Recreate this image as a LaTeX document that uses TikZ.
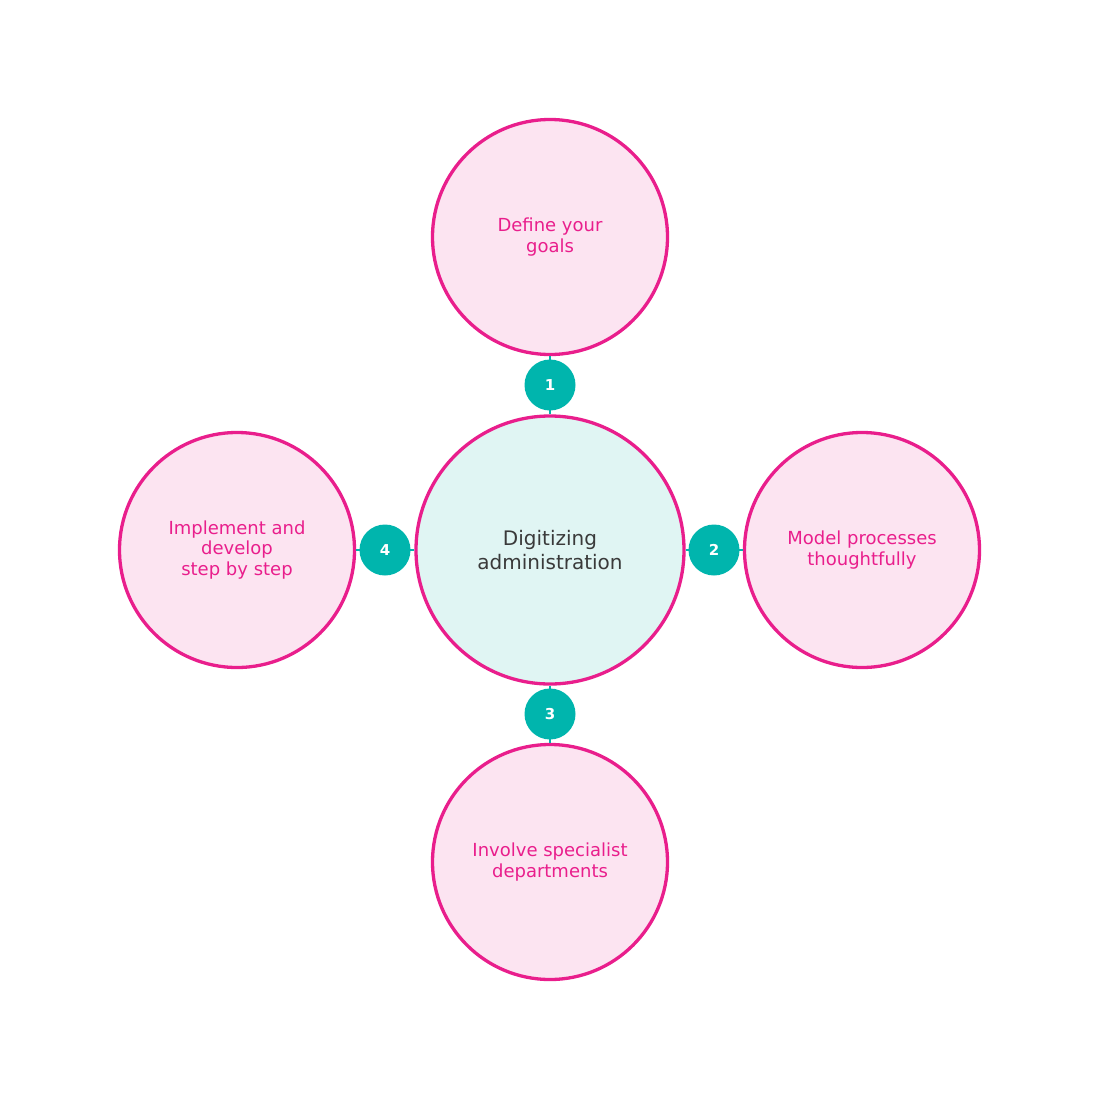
\documentclass[tikz,border=0pt]{standalone}
\usepackage{fontspec}
\setmainfont{DejaVu Sans}
\definecolor{pinkline}{HTML}{E91E8C}
\definecolor{pinkfill}{HTML}{FCE4F1}
\definecolor{centerfill}{HTML}{E0F5F3}
\definecolor{teal}{HTML}{00B5AD}
\definecolor{darktext}{HTML}{3A3A3A}
\tikzset{
  outer/.style={circle, draw=pinkline, line width=3.3pt, fill=pinkfill, minimum size=235pt, inner sep=0pt, align=center, text=pinkline, font=\fontsize{18}{20.5}\selectfont},
  centre/.style={circle, draw=pinkline, line width=3.3pt, fill=centerfill, minimum size=268pt, inner sep=0pt, align=center, text=darktext, font=\fontsize{20}{24}\selectfont},
  badge/.style={circle, fill=teal, minimum size=51pt, inner sep=0pt, text=white, font=\bfseries\fontsize{15}{17}\selectfont},
  link/.style={draw=teal, line width=2.5pt}
}
\begin{document}
\begin{tikzpicture}[x=1pt,y=-1pt]
\useasboundingbox (0,0) rectangle (1100,1100);
\node[centre] (center) at (550,550) {Digitizing\\administration};
\node[outer] (c1) at (550,237) {Define your\\goals};
\node[outer] (c2) at (862,550) {Model processes\\thoughtfully};
\node[outer] (c3) at (550,862) {Involve specialist\\departments};
\node[outer] (c4) at (237,550) {Implement and\\develop\\step by step};
\draw[link] (center) -- (c1);
\draw[link] (center) -- (c2);
\draw[link] (center) -- (c3);
\draw[link] (center) -- (c4);
\node[badge] (n1) at (550,385) {1};
\node[badge] (n2) at (714,550) {2};
\node[badge] (n3) at (550,714) {3};
\node[badge] (n4) at (385,550) {4};
\end{tikzpicture}
\end{document}
